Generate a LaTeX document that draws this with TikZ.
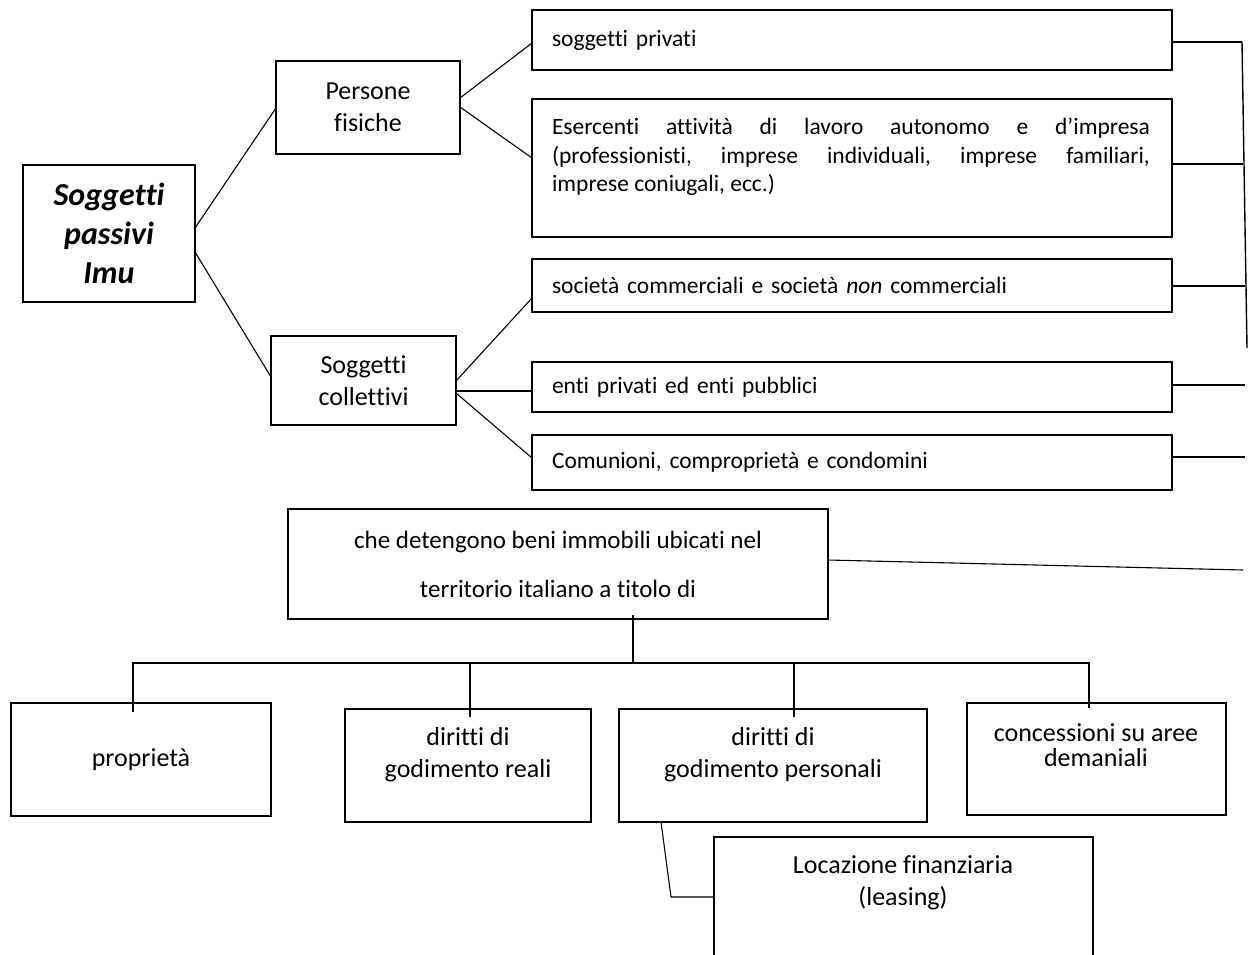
\documentclass[tikz,border=0pt]{standalone}
\usepackage{fontspec}
\setmainfont{Carlito}[Ligatures={NoCommon}]
\usetikzlibrary{calc}
\begin{document}
\begin{tikzpicture}[x=1pt,y=-1pt,
  box/.style={draw, line width=1.3pt, inner sep=0pt, outer sep=0pt, anchor=north west, fill=white},
  conn/.style={line width=1.1pt},
  fmain/.style={font=\fontsize{32}{39}\selectfont\bfseries\itshape},
  fmid/.style={font=\fontsize{26}{32}\selectfont},
  fright/.style={font=\fontsize{23.5}{28.5}\selectfont},
  lbl/.style={inner sep=0pt, outer sep=0pt}]
\useasboundingbox (0,0) rectangle (1248,954);

% --- left part
\node[box, fmain, align=center, minimum width=172, minimum height=137] (main) at (23,165) {Soggetti\\passivi\\Imu};
\node[box, fmid, align=center, minimum width=184, minimum height=93] (pf) at (276,61) {Persone\\fisiche};
\node[box, fmid, align=center, minimum width=185, minimum height=89] (sc) at (271,336) {Soggetti\\collettivi};

% --- right boxes
\node[box, fright, align=left, text width=600pt, inner xsep=20pt, minimum width=640, minimum height=60] (sp) at (532,10) {soggetti privati};
\node[box, minimum width=640, minimum height=138] (es) at (532,99) {};
\node[lbl, fright, anchor=north west, align=left] (estext) at (552,118)
  {\hbox to 598pt{Esercenti\hfill attività\hfill di\hfill lavoro\hfill autonomo\hfill e\hfill d’impresa}\\
   \hbox to 598pt{(professionisti,\hfill imprese\hfill individuali,\hfill imprese\hfill familiari,}\\
   imprese coniugali, ecc.)};
\node[box, fright, align=left, text width=600pt, inner xsep=20pt, minimum width=640, minimum height=53] (soc) at (532,259) {società commerciali e società \textit{non} commerciali};
\node[box, fright, align=left, text width=600pt, inner xsep=20pt, minimum width=640, minimum height=50] (enti) at (532,362) {enti privati ed enti pubblici};
\node[box, fright, align=left, text width=600pt, inner xsep=20pt, minimum width=640, minimum height=55] (com) at (532,435) {Comunioni, comproprietà e condomini};

% --- middle box
\node[box, font=\fontsize{25}{49}\selectfont, align=center, minimum width=540, minimum height=110] (che) at (288,509) {che detengono beni immobili ubicati nel\\territorio italiano a titolo di};

% --- bottom boxes
\node[box, fmid, minimum width=260, minimum height=113] (prop) at (11,703) {proprietà};
\node[box, minimum width=246, minimum height=113] (dr) at (345,709) {};
\node[lbl, fmid, align=center] (drtext) at (468,755) {diritti di\\godimento reali};
\node[box, minimum width=308, minimum height=113] (dp) at (619,709) {};
\node[lbl, fmid, align=center] (dptext) at (773,755) {diritti di\\godimento personali};
\node[box, minimum width=259, minimum height=112] (conc) at (967,703) {};
\node[lbl, font=\fontsize{26}{25}\selectfont, align=center] (conctext) at (1096,745) {concessioni su aree\\demaniali};
\node[draw=none, inner sep=0pt, outer sep=0pt, anchor=north west, minimum width=379, minimum height=120] (loc) at (714,837) {};
\draw[line width=1.3pt] (loc.south west) |- (loc.north east) -- (loc.south east);
\node[lbl, fmid, align=center] (loctext) at (903,883) {Locazione finanziaria\\(leasing)};

% --- connectors left
\draw[conn] ($(main.north east)+(0,63)$) -- ($(pf.north west)+(0,47)$);
\draw[conn] ($(main.north east)+(0,87)$) -- ($(sc.north west)+(0,41)$);
\draw[conn] ($(pf.north east)+(0,37)$) -- ($(sp.north west)+(0,33)$);
\draw[conn] ($(pf.north east)+(0,46)$) -- ($(es.north west)+(0,59)$);
\draw[conn] ($(sc.north east)+(0,45)$) -- ($(soc.north west)+(0,39)$);
\draw[conn] ($(sc.north east)+(0,55)$) -- ($(enti.north west)+(0,29)$);
\draw[conn] ($(sc.north east)+(0,57)$) -- ($(com.north west)+(0,23)$);

% --- connectors right
\coordinate (rsp) at (1242,42);
\coordinate (res) at (1243,164);
\coordinate (rsoc) at (1245,286);
\coordinate (renti) at (1245,385);
\coordinate (rcom) at (1245,457);
\coordinate (rche) at (1243,570);
\coordinate (vbot) at (1247,348);
\draw[conn] ($(sp.north east)+(0,32)$) -- (rsp);
\draw[conn] ($(es.north east)+(0,65)$) -- (res);
\draw[conn] ($(soc.north east)+(0,27)$) -- (rsoc);
\draw[conn] ($(enti.north east)+(0,23)$) -- (renti);
\draw[conn] ($(com.north east)+(0,22)$) -- (rcom);
\draw[conn] ($(che.north east)+(0,51)$) -- (rche);
\draw[line width=1.4pt] (rsp) -- (vbot);

% --- bottom tree
\coordinate (bj) at (633,663);
\coordinate (proptop) at ($(prop.north west)+(122,9)$);
\coordinate (drtop) at ($(dr.north west)+(125,8)$);
\coordinate (dptop) at ($(dp.north west)+(175,8)$);
\coordinate (conctop) at ($(conc.north west)+(122,5)$);
\draw[conn] ($(che.south -| bj)+(0,-4)$) -- (bj);
\draw[conn] (proptop) -- (proptop |- bj) -- (conctop |- bj) -- (conctop);
\draw[conn] (drtop) -- (drtop |- bj);
\draw[conn] (dptop) -- (dptop |- bj);
\coordinate (lk) at (671,897);
\draw[conn] ($(dp.south west)+(42,0)$) -- (lk) -- ($(loc.north west)+(0,60)$);
\end{tikzpicture}
\end{document}
